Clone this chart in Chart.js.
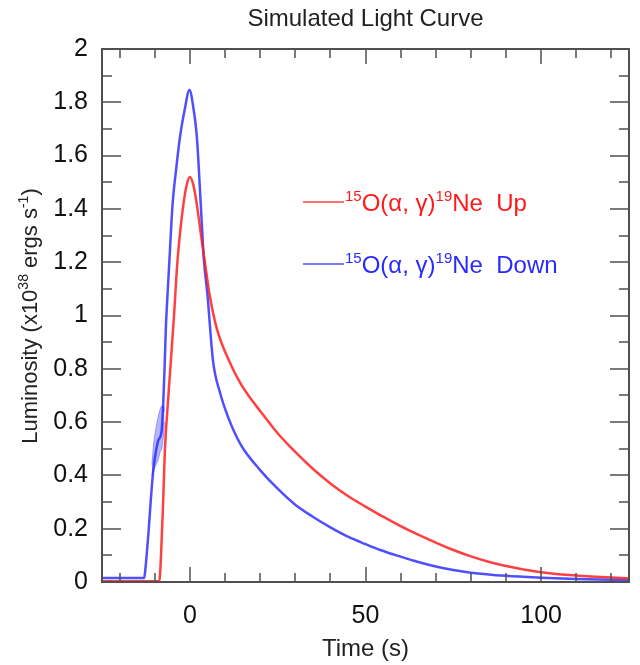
<!DOCTYPE html>
<html>
<head>
<meta charset="utf-8">
<title>Simulated Light Curve</title>
<style>
  body { margin: 0; background: #fff; }
  #wrap { width: 640px; height: 665px; }
</style>
</head>
<body>
<div id="wrap"><canvas id="lc" width="640" height="665"></canvas></div>

<script src="https://cdn.jsdelivr.net/npm/chart.js"></script>

<script>
    // light curves: time in s, luminosity in 1e38 erg/s
    const upTime = [-25, -8.7, -8.2, -7.6, -7.1, -6.2, -5.4, -4.5, -3.6, -2.7, -1.8, -0.9, 0, 1, 1.95, 3.2, 4.6, 5.6, 7.7, 11, 14.3, 17.1, 20, 25, 30, 35, 40, 45, 50, 55, 60, 65, 70, 75, 80, 85, 90, 95, 100, 110, 125]
    const upLum = [0.003, 0.003, 0.1, 0.3, 0.495, 0.68, 0.83, 1.0, 1.19, 1.32, 1.42, 1.49, 1.52, 1.49, 1.42, 1.3, 1.17, 1.08, 0.95, 0.835, 0.748, 0.692, 0.642, 0.558, 0.488, 0.425, 0.37, 0.323, 0.283, 0.245, 0.21, 0.178, 0.148, 0.12, 0.096, 0.076, 0.06, 0.047, 0.037, 0.024, 0.014]

    const downTime = [-25, -13, -12.8, -11.8, -11.1, -10.4, -9.9, -9, -8, -7.6, -7.2, -6.8, -6.3, -5.8, -4.9, -3.8, -2.8, -1.5, -0.1, 1, 2, 3.1, 4, 5, 6.6, 8.6, 11, 13.3, 15.2, 20, 25, 30, 35, 40, 45, 50, 54.2, 60, 65, 70, 75, 80, 90, 100, 110, 125]
    const downLum = [0.015, 0.015, 0.03, 0.18, 0.31, 0.42, 0.47, 0.53, 0.57, 0.66, 0.8, 0.96, 1.09, 1.21, 1.42, 1.56, 1.67, 1.77, 1.846, 1.78, 1.67, 1.42, 1.21, 1.08, 0.83, 0.71, 0.615, 0.545, 0.5, 0.42, 0.35, 0.29, 0.245, 0.205, 0.17, 0.142, 0.12, 0.095, 0.075, 0.058, 0.045, 0.035, 0.023, 0.016, 0.011, 0.007]

    // scatter envelope on the early blue rise
    const bandTime = [-10.8, -10.3, -9.6, -9, -8.4, -8, -7.5, -7.2]
    const bandHigh = [0.44, 0.52, 0.58, 0.62, 0.65, 0.66, 0.66, 0.64]
    const bandLow = [0.4, 0.42, 0.44, 0.46, 0.49, 0.5, 0.55, 0.6]

    const xMajor = [0, 50, 100]
    const xMinor = [-20, -10, 10, 20, 30, 40, 60, 70, 80, 90, 110, 120]
    const yMajor = [0, 0.2, 0.4, 0.6, 0.8, 1, 1.2, 1.4, 1.6, 1.8, 2]
    const yMinor = [0.1, 0.3, 0.5, 0.7, 0.9, 1.1, 1.3, 1.5, 1.7, 1.9]

    const seriesNames = ['Up', 'Down']
    const FONT = "'Liberation Sans', Arial, sans-serif"
    const RED = 'rgba(255, 30, 30, 0.85)'
    const BLUE = 'rgba(35, 35, 255, 0.8)'

    function points(ts, vs) {
        return ts.map((t, i) => ({x: t, y: vs[i]}))
    }

    // text with superscript pieces, drawn left to right
    function drawRich(ctx, parts, x, y, size, align) {
        const big = `${size}px ${FONT}`
        const small = `${Math.round(size * 0.62)}px ${FONT}`
        let w = 0
        for (const p of parts) {
            ctx.font = p.sup ? small : big
            w += ctx.measureText(p.t).width
        }
        let cx = align === 'center' ? x - w / 2 : x
        ctx.textAlign = 'left'
        ctx.textBaseline = 'alphabetic'
        for (const p of parts) {
            ctx.font = p.sup ? small : big
            ctx.fillText(p.t, cx, p.sup ? y - size * 0.42 : y)
            cx += ctx.measureText(p.t).width
        }
    }

    const frame = {
        id: 'frame',
        afterDatasetsDraw(chart) {
            const {ctx, chartArea: a, scales: {x, y}} = chart
            ctx.save()
            ctx.strokeStyle = '#505050'
            ctx.lineWidth = 1.5
            ctx.beginPath()
            for (const v of xMajor.concat(xMinor)) {
                const px = Math.round(x.getPixelForValue(v))
                const len = xMajor.includes(v) ? 15 : 9
                ctx.moveTo(px, a.bottom); ctx.lineTo(px, a.bottom - len)
                ctx.moveTo(px, a.top); ctx.lineTo(px, a.top + len)
            }
            for (const v of yMajor.concat(yMinor)) {
                const py = Math.round(y.getPixelForValue(v))
                const len = yMajor.includes(v) ? 19 : 10
                ctx.moveTo(a.left, py); ctx.lineTo(a.left + len, py)
                ctx.moveTo(a.right, py); ctx.lineTo(a.right - len, py)
            }
            ctx.stroke()
            ctx.lineWidth = 2
            ctx.strokeRect(a.left, a.top, a.right - a.left, a.bottom - a.top)
            ctx.restore()
        }
    }

    const notes = {
        id: 'notes',
        afterDraw(chart) {
            const {ctx, chartArea: a} = chart
            const mid = (a.left + a.right) / 2
            ctx.save()
            ctx.fillStyle = '#222'
            ctx.font = `24px ${FONT}`
            ctx.textAlign = 'center'
            ctx.fillText('Simulated Light Curve', mid, 26)
            ctx.fillText('Time (s)', mid, 656)

            ctx.translate(37, 316)
            ctx.rotate(-Math.PI / 2)
            drawRich(ctx, [
                {t: 'Luminosity (x10'}, {t: '38', sup: true},
                {t: ' ergs s'}, {t: '-1', sup: true}, {t: ')'}
            ], 0, 0, 22, 'center')
            ctx.restore()

            // legend
            const rows = [{c: RED, y: 202}, {c: BLUE, y: 264}]
            rows.forEach((r, i) => {
                ctx.save()
                ctx.strokeStyle = r.c
                ctx.lineWidth = 1.5
                ctx.beginPath()
                ctx.moveTo(303, r.y); ctx.lineTo(344, r.y)
                ctx.stroke()
                ctx.fillStyle = i === 0 ? '#ff1a1a' : '#2a2aff'
                drawRich(ctx, [
                    {t: '15', sup: true}, {t: 'O(α, γ)'}, {t: '19', sup: true},
                    {t: 'Ne  ' + seriesNames[i]}
                ], 345, r.y + 9, 24, 'left')
                ctx.restore()
            })
        }
    }

    new Chart(document.getElementById('lc'), {
        type: 'line',
        data: {
            datasets: [
                {
                    label: seriesNames[0],
                    data: points(upTime, upLum),
                    borderColor: RED,
                    borderWidth: 2.5,
                    pointRadius: 0,
                    fill: false,
                    cubicInterpolationMode: 'monotone'
                },
                {
                    label: seriesNames[1],
                    data: points(downTime, downLum),
                    borderColor: BLUE,
                    borderWidth: 2.5,
                    pointRadius: 0,
                    fill: false,
                    cubicInterpolationMode: 'monotone'
                },
                {
                    label: 'band high',
                    data: points(bandTime, bandHigh),
                    borderColor: 'rgba(60, 60, 255, 0.45)',
                    borderWidth: 1,
                    pointRadius: 0,
                    fill: '+1',
                    backgroundColor: 'rgba(80, 80, 255, 0.42)',
                    cubicInterpolationMode: 'monotone'
                },
                {
                    label: 'band low',
                    data: points(bandTime, bandLow),
                    borderColor: 'rgba(60, 60, 255, 0.45)',
                    borderWidth: 1,
                    pointRadius: 0,
                    fill: false,
                    cubicInterpolationMode: 'monotone'
                }
            ]
        },
        options: {
            responsive: false,
            animation: false,
            layout: {padding: {top: 49, right: 11, left: 0, bottom: 0}},
            plugins: {
                legend: {display: false},
                tooltip: {enabled: false},
                title: {display: false}
            },
            scales: {
                x: {
                    type: 'linear',
                    min: -25,
                    max: 125,
                    grid: {display: false, drawTicks: false},
                    border: {display: false},
                    afterBuildTicks: s => { s.ticks = xMajor.map(v => ({value: v})) },
                    afterFit: s => { s.height = 83 },
                    ticks: {
                        font: {family: FONT, size: 25},
                        color: '#111',
                        padding: 19,
                        maxRotation: 0,
                        autoSkip: false
                    }
                },
                y: {
                    type: 'linear',
                    min: 0,
                    max: 2,
                    grid: {display: false, drawTicks: false},
                    border: {display: false},
                    afterBuildTicks: s => { s.ticks = yMajor.map(v => ({value: v})) },
                    afterFit: s => { s.width = 102 },
                    ticks: {
                        font: {family: FONT, size: 25},
                        color: '#111',
                        padding: 14,
                        autoSkip: false,
                        callback: v => String(v)
                    }
                }
            }
        },
        plugins: [frame, notes]
    })
</script>
</body>
</html>
